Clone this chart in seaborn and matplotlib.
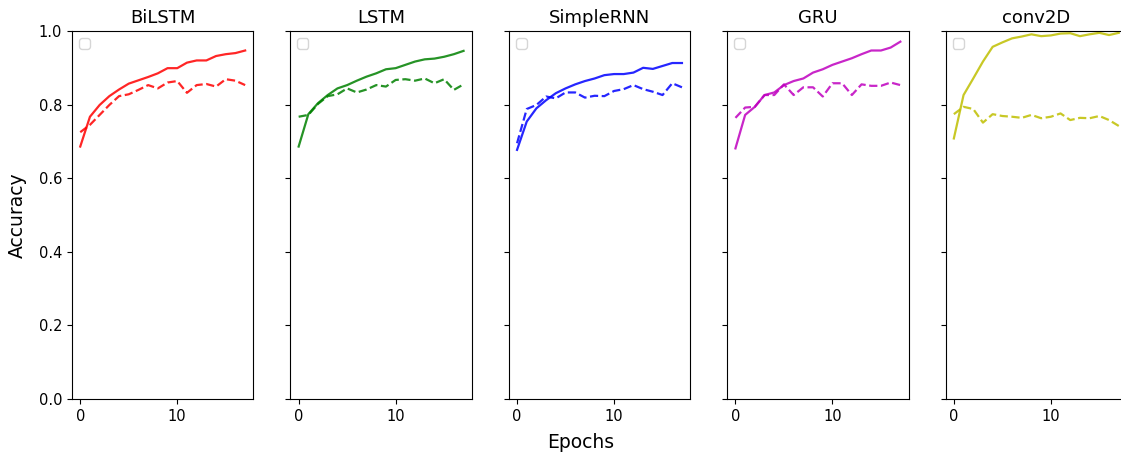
import numpy as np
import pandas as pd
import matplotlib
matplotlib.use("Agg")
import matplotlib.pyplot as plt
import seaborn as sns

epochs = list(range(18))
models = ["BiLSTM", "LSTM", "SimpleRNN", "GRU", "conv2D"]
colors = ["r", "g", "b", "m", "y"]

bilstm_train = [0.686, 0.767, 0.799, 0.823, 0.841, 0.857, 0.866, 0.875, 0.885, 0.899,
                0.899, 0.914, 0.920, 0.920, 0.932, 0.937, 0.940, 0.947]
bilstm_val = [0.725, 0.745, 0.772, 0.799, 0.823, 0.828, 0.840, 0.853, 0.844, 0.860,
              0.864, 0.832, 0.853, 0.856, 0.849, 0.869, 0.865, 0.853]
lstm_train = [0.686, 0.774, 0.804, 0.826, 0.844, 0.853, 0.865, 0.876, 0.885, 0.896,
              0.899, 0.908, 0.917, 0.923, 0.925, 0.930, 0.937, 0.946]
lstm_val = [0.767, 0.772, 0.802, 0.823, 0.828, 0.844, 0.833, 0.841, 0.853, 0.849,
            0.867, 0.869, 0.865, 0.871, 0.858, 0.869, 0.840, 0.855]
rnn_train = [0.677, 0.754, 0.790, 0.812, 0.831, 0.844, 0.855, 0.864, 0.871, 0.880,
             0.883, 0.883, 0.887, 0.900, 0.897, 0.905, 0.913, 0.913]
rnn_val = [0.695, 0.788, 0.799, 0.822, 0.817, 0.833, 0.833, 0.819, 0.824, 0.823,
           0.837, 0.842, 0.853, 0.842, 0.835, 0.826, 0.858, 0.847]
gru_train = [0.681, 0.772, 0.794, 0.826, 0.833, 0.853, 0.864, 0.871, 0.887, 0.896,
             0.908, 0.917, 0.926, 0.937, 0.947, 0.947, 0.955, 0.971]
gru_val = [0.764, 0.792, 0.794, 0.826, 0.826, 0.855, 0.826, 0.847, 0.847, 0.822,
           0.858, 0.858, 0.826, 0.855, 0.851, 0.851, 0.860, 0.853]
conv_train = [0.708, 0.826, 0.871, 0.917, 0.957, 0.969, 0.980, 0.985, 0.991, 0.986,
              0.988, 0.993, 0.994, 0.986, 0.991, 0.995, 0.989, 0.995]
conv_val = [0.774, 0.794, 0.788, 0.751, 0.774, 0.769, 0.767, 0.764, 0.772, 0.763,
            0.767, 0.776, 0.758, 0.764, 0.763, 0.769, 0.758, 0.742]

trains = [bilstm_train, lstm_train, rnn_train, gru_train, conv_train]
vals = [bilstm_val, lstm_val, rnn_val, gru_val, conv_val]

fig, axes = plt.subplots(1, 5, figsize=(11.21, 4.54), dpi=100, sharey=True)
fig.subplots_adjust(left=72/1121, right=1127/1121, top=1-31/454, bottom=1-399/454,
                    wspace=0.204)

for ax, name, c, tr, va in zip(axes, models, colors, trains, vals):
    df = pd.DataFrame({"epoch": epochs, "train": tr, "val": va})
    sns.lineplot(data=df, x="epoch", y="train", ax=ax, color=c, alpha=0.85,
                 linewidth=1.6)
    sns.lineplot(data=df, x="epoch", y="val", ax=ax, color=c, alpha=0.85,
                 linewidth=1.6, linestyle="--")
    ax.set_title(name, fontsize=13)
    ax.set_xlabel("")
    ax.set_ylabel("")
    ax.set_ylim(0.0, 1.0)
    ax.set_xticks([0, 10])
    ax.tick_params(labelsize=10.5)
    import warnings
    with warnings.catch_warnings():
        warnings.simplefilter("ignore")
        ax.legend(loc="upper left")

fig.text(17/1121, 0.526, "Accuracy", rotation=90, ha="center", va="center",
         fontsize=13.5)
fig.text(581/1121, 1-443/454, "Epochs", ha="center", va="center", fontsize=13.5)

fig.savefig("out.png", dpi=100)
